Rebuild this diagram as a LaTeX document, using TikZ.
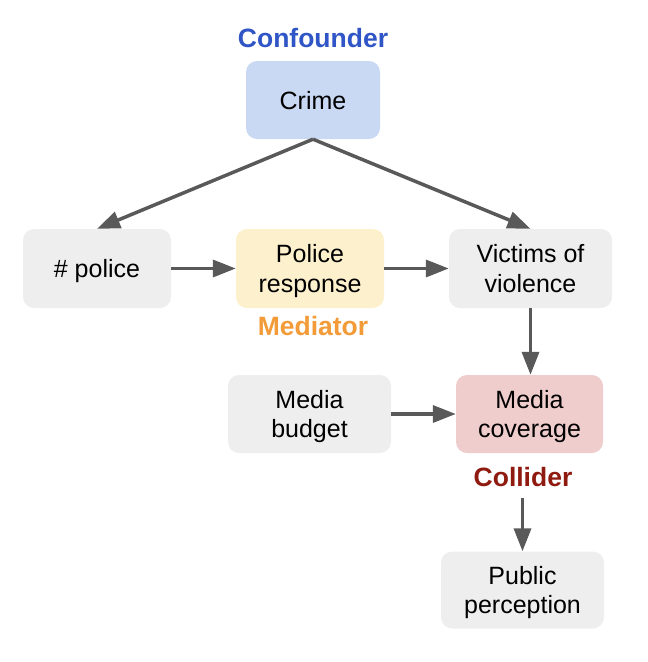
\documentclass[tikz,border=0pt]{standalone}
\usepackage{fontspec}
\setmainfont{Liberation Sans}
\usetikzlibrary{arrows.meta}
\definecolor{grayfill}{HTML}{EEEEEE}
\definecolor{bluefill}{HTML}{C9D8F3}
\definecolor{yellowfill}{HTML}{FDF1CD}
\definecolor{redfill}{HTML}{EFCDCC}
\definecolor{bluetext}{HTML}{2F55C6}
\definecolor{orangetext}{HTML}{F29B38}
\definecolor{redtext}{HTML}{8F1A10}
\definecolor{arrowgray}{HTML}{595959}
\newcommand{\twolines}[2]{\begin{tabular}{@{}c@{}}\rule{0pt}{26.4pt}#1\\#2\end{tabular}}
\tikzset{
  box/.style={rounded corners=11pt, inner sep=0pt, align=center,
    font=\fontsize{25}{29.5}\selectfont, text=black},
  oneline/.style={text height=18pt, text depth=0pt},
  tag/.style={inner sep=0pt, anchor=base, font=\fontsize{26.5}{30}\selectfont\bfseries},
  link/.style={draw=arrowgray, line width=3.5pt,
    -{Triangle[length=23pt,width=17pt]}},
}
\begin{document}
\begin{tikzpicture}[x=1pt,y=-1pt]
\useasboundingbox (0,0) rectangle (648,662);
\node[box, oneline, fill=bluefill, minimum width=134pt, minimum height=78pt] (crime) at (313,100) {Crime};
\node[box, oneline, fill=grayfill, minimum width=148pt, minimum height=79pt] (police) at (97,268.5) {\# police};
\node[box, fill=yellowfill, minimum width=148pt, minimum height=79pt] (resp) at (310,268.5) {\twolines{Police}{response}};
\node[box, fill=grayfill, minimum width=163pt, minimum height=79pt] (victims) at (530.5,268.5) {\twolines{Victims of}{violence}};
\node[box, fill=grayfill, minimum width=163pt, minimum height=78pt] (budget) at (309.5,414) {\twolines{Media}{budget}};
\node[box, fill=redfill, minimum width=147pt, minimum height=78pt] (coverage) at (529.5,414) {\twolines{Media}{coverage}};
\node[box, fill=grayfill, minimum width=163pt, minimum height=77pt] (public) at (522.5,590) {\twolines{Public}{perception}};

\node[tag, text=bluetext] (conf) at (313,47) {Confounder};
\node[tag, text=orangetext] (med) at (313,335) {Mediator};
\node[tag, text=redtext] (coll) at (523,486) {Collider};
\coordinate (cstart) at (522.5,498);

\draw[link] (crime.south) -- (police.north);
\draw[link] (crime.south) -- (victims.north);
\draw[link] (police.east) -- (resp.west);
\draw[link] (resp.east) -- (victims.west);
\draw[link] (victims.south) -- (victims.south |- coverage.north);
\draw[link] (budget.east) -- (coverage.west);
\draw[link] (cstart) -- (public.north);
\end{tikzpicture}
\end{document}
